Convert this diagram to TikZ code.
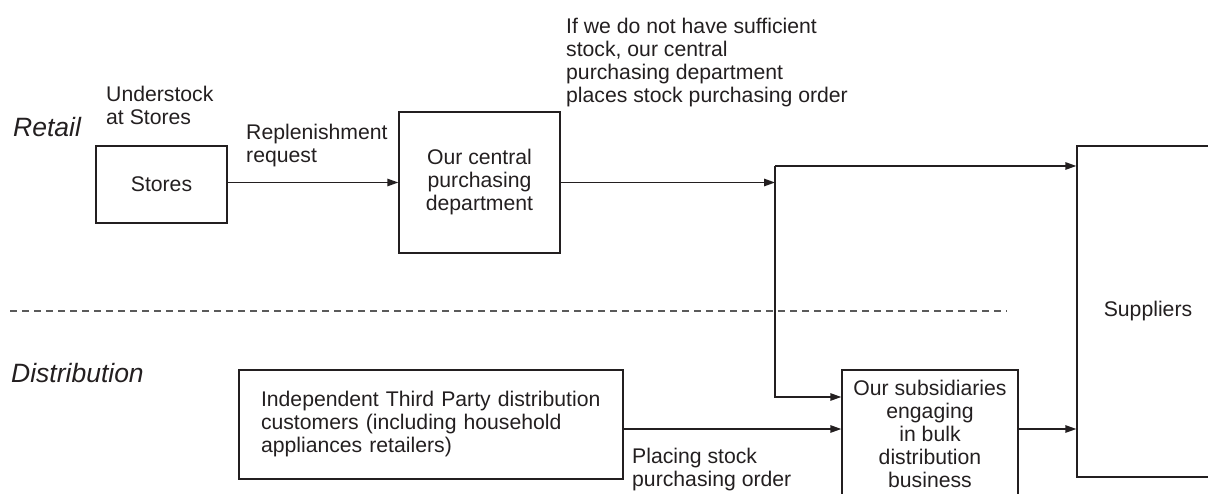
\documentclass[tikz,border=0pt]{standalone}
\usepackage{fontspec}
\setmainfont{Liberation Sans}
\usetikzlibrary{arrows.meta}
\definecolor{ink}{RGB}{35,31,32}
\definecolor{rule}{RGB}{90,90,90}
\begin{document}
\begin{tikzpicture}[x=1pt,y=-1pt,
  every node/.style={text=ink},
  txt/.style={font=\fontsize{21.2}{23}\selectfont, inner sep=0pt},
  lane/.style={inner sep=0pt, font=\fontsize{26.5}{29}\selectfont\itshape},
  box/.style={txt, draw=ink, line width=1.4pt, align=center},
  arr/.style={draw=ink, line width=1.4pt, -{Triangle[length=11pt,width=7.5pt]}},
  dashline/.style={draw=rule, line width=1.1pt, dash pattern=on 7pt off 5pt}]
\useasboundingbox (0,0) rectangle (1208,494);

% lane titles and the divider between them
\node[lane, anchor=base west] (retail) at (13,137) {Retail};
\node[lane, anchor=base west] (distrib) at (11,383) {Distribution};
\coordinate (dashA) at (10,311);
\coordinate (dashB) at (1007,311);
\draw[dashline] (dashA) -- (dashB);

% boxes
\node[box, minimum width=131pt, minimum height=77pt] (stores) at (161.5,184.5) {Stores};
\node[box, minimum width=161pt, minimum height=141pt] (central) at (479.5,182.5)
  {Our central\\purchasing\\department};
\node[box, minimum width=142pt, minimum height=331pt] (suppliers) at (1148,311.5) {Suppliers};
\node[box, minimum width=176pt, minimum height=128pt] (subs) at (930,434)
  {Our subsidiaries\\engaging\\in bulk\\distribution\\business};
\node[box, align=left, minimum width=384pt, minimum height=109pt,
      text width=340pt, inner xsep=21pt] (third) at (431,424.5)
  {Independent Third Party distribution\\customers (including household\\appliances retailers)};

% annotations (base anchor sits on the last line)
\node[txt, align=left, anchor=base west] (under) at (106,124.5) {Understock\\at Stores};
\node[txt, align=left, anchor=base west] (repl) at (246,162.5) {Replenishment\\request};
\node[txt, align=left, anchor=base west] (insuff) at (566,103)
  {If we do not have sufficient\\stock, our central\\purchasing department\\places stock purchasing order};
\node[txt, align=left, anchor=base west] (placing) at (632,486) {Placing stock\\purchasing order};

% connectors
\coordinate (split) at (775,182.5);
\coordinate (jtop) at (775,166);
\coordinate (jbot) at (775,397);
\coordinate (ordery) at (0,429);

\draw[arr] (stores.east |- central.west) -- (central.west);
\draw[arr] (central.east) -- (split);
\draw[arr] (jtop) -- (jtop -| suppliers.west);
\draw[arr] (jtop) -- (jbot) -- (jbot -| subs.west);
\draw[arr] (third.east |- ordery) -- (subs.west |- ordery);
\draw[arr] (subs.east |- ordery) -- (suppliers.west |- ordery);
\end{tikzpicture}
\end{document}
